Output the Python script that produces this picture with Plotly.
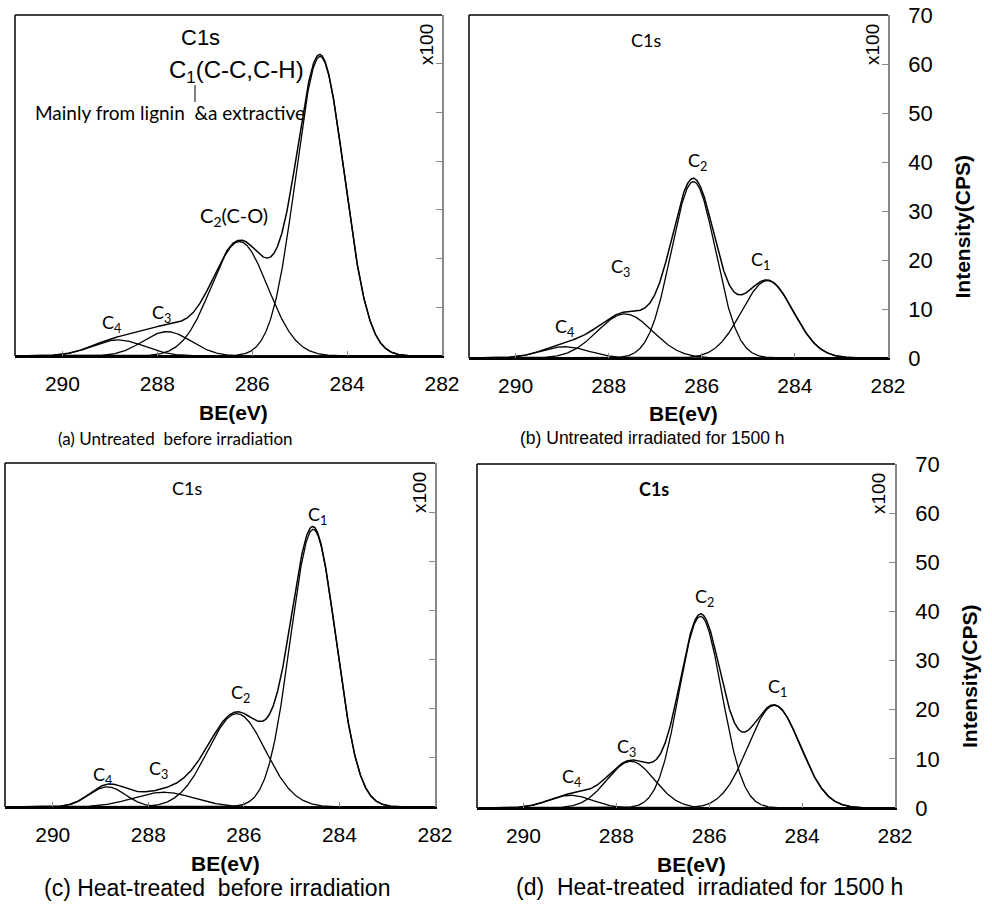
import numpy as np
import plotly.graph_objects as go

W, H = 992, 909

# ---- data: fitted C1s component peaks (binding energy eV, height x100 CPS, FWHM eV)
components = ["C1", "C2", "C3", "C4"]
a_centers = [284.57, 286.27, 287.80, 288.83]
a_heights = [61.5, 23.5, 5.0, 3.3]
a_fwhm = [1.20, 1.40, 1.20, 1.30]

b_centers = [284.59, 286.18, 287.65, 288.94]
b_heights = [15.8, 36.0, 9.0, 2.3]
b_fwhm = [1.30, 1.12, 1.40, 1.20]

c_centers = [284.55, 286.15, 287.68, 288.86]
c_heights = [56.5, 19.0, 3.0, 4.1]
c_fwhm = [1.12, 1.42, 1.50, 0.90]

d_centers = [284.60, 286.19, 287.69, 288.99]
d_heights = [20.9, 39.0, 9.5, 2.6]
d_fwhm = [1.32, 1.08, 1.20, 1.10]

x_ticks = [290, 288, 286, 284, 282]
y_ticks = [0, 10, 20, 30, 40, 50, 60, 70]

captions = ["(a) Untreated  before irradiation",
            "(b) Untreated irradiated for 1500 h",
            "(c) Heat-treated  before irradiation",
            "(d)  Heat-treated  irradiated for 1500 h"]

ARIAL = "Liberation Sans, Arial"
CALI = "Lato, Calibri"

be = np.linspace(291, 282, 901)


def gauss(x, c, h, w):
    return h * np.exp(-4 * np.log(2) * (x - c) ** 2 / w ** 2)


# panel frames in pixels: left, right, top, bottom
frames = {
    "a": (15, 442, 15, 356),
    "b": (469, 888, 15, 358),
    "c": (5, 435, 463, 807),
    "d": (477, 895, 464, 808),
}
params = {
    "a": (a_centers, a_heights, a_fwhm),
    "b": (b_centers, b_heights, b_fwhm),
    "c": (c_centers, c_heights, c_fwhm),
    "d": (d_centers, d_heights, d_fwhm),
}

fig = go.Figure()
layout = dict(width=W, height=H, autosize=False, margin=dict(l=0, r=0, t=0, b=0, pad=0),
              paper_bgcolor="white", plot_bgcolor="white", showlegend=False)
shapes = []
annotations = []


def px(x, y):
    return x / W, 1 - y / H


def ann(x, y, text, size, family, **kw):
    xx, yy = px(x, y)
    annotations.append(dict(x=xx, y=yy, xref="paper", yref="paper", text=text,
                            xanchor="center", yanchor="middle",
                            showarrow=False, font=dict(family=family, size=size, color="black"), **kw))


for i, key in enumerate(["a", "b", "c", "d"]):
    n = i + 1
    xa = "x" if n == 1 else f"x{n}"
    ya = "y" if n == 1 else f"y{n}"
    l, r, t, b = frames[key]
    cs, hs, ws = params[key]
    total = np.zeros_like(be)
    for c, h, w in zip(cs, hs, ws):
        comp = gauss(be, c, h, w)
        total += comp
        fig.add_trace(go.Scatter(x=be, y=comp, mode="lines", xaxis=xa, yaxis=ya,
                                 line=dict(color="black", width=1.3), hoverinfo="skip"))
    fig.add_trace(go.Scatter(x=be, y=total, mode="lines", xaxis=xa, yaxis=ya,
                             line=dict(color="black", width=1.5), hoverinfo="skip"))

    showlab = key in ("b", "d")
    layout["xaxis" if n == 1 else f"xaxis{n}"] = dict(
        domain=[l / W, r / W], range=[291, 282], anchor=ya, automargin=False,
        tickvals=x_ticks, ticktext=[str(v) for v in x_ticks],
        ticks="inside", ticklen=5, tickcolor="#888", tickwidth=1,
        showline=True, linecolor="black", linewidth=2, showgrid=False, zeroline=False,
        tickfont=dict(family=ARIAL, size=21, color="black"), ticklabelstandoff=8)
    layout["yaxis" if n == 1 else f"yaxis{n}"] = dict(
        domain=[1 - b / H, 1 - t / H], range=[0, 70], anchor=xa, side="right", automargin=False,
        tickvals=y_ticks, showticklabels=showlab,
        ticks="inside", ticklen=6, tickcolor="#888", tickwidth=1,
        showline=True, linecolor="#888", linewidth=1.5, showgrid=False, zeroline=False,
        tickfont=dict(family=ARIAL, size=22, color="black"), ticklabelstandoff=14)

    # black left and top frame lines
    shapes.append(dict(type="line", xref="paper", yref="paper",
                       x0=l / W, x1=l / W, y0=1 - t / H, y1=1 - b / H,
                       line=dict(color="black", width=1.5)))
    shapes.append(dict(type="line", xref="paper", yref="paper",
                       x0=l / W, x1=r / W, y0=1 - t / H, y1=1 - t / H,
                       line=dict(color="black", width=1.5)))

    ann(r - 16, t + 30, "x100", 19, ARIAL, textangle=-90)
    ann((l + r) / 2 + 5, b + 56, "<b>BE(eV)</b>", 21, ARIAL)
    if showlab:
        ann(r + 74, (t + b) / 2 + 40, "<b>Intensity(CPS)</b>", 21, ARIAL, textangle=-90)

# captions
ann(175, 438, captions[0], 17, CALI)
ann(652, 438, captions[1], 17.5, ARIAL)
ann(217, 888, captions[2], 23, ARIAL)
ann(709, 887, captions[3], 23, ARIAL)

# panel a labels
ann(200, 38, "C1s", 22, ARIAL)
ann(236, 72, "C<sub>1</sub>(C-C,C-H)", 24, ARIAL)
ann(170, 113, "Mainly from lignin  &a extractive", 19, CALI)
ann(234, 217, "C<sub>2</sub>(C-O)", 20, CALI)
ann(161, 313, "C<sub>3</sub>", 18, CALI)
ann(111, 323, "C<sub>4</sub>", 18, CALI)
shapes.append(dict(type="line", xref="paper", yref="paper",
                   x0=195 / W, x1=195 / W, y0=1 - 85 / H, y1=1 - 102 / H,
                   line=dict(color="black", width=1)))

# panel b labels
ann(646, 40, "C1s", 18, CALI)
ann(697, 162, "C<sub>2</sub>", 18, CALI)
ann(620, 267, "C<sub>3</sub>", 18, CALI)
ann(760, 260, "C<sub>1</sub>", 18, CALI)
ann(564, 327, "C<sub>4</sub>", 18, CALI)

# panel c labels
ann(187, 488, "C1s", 18, CALI)
ann(317, 515, "C<sub>1</sub>", 18, CALI)
ann(240, 693, "C<sub>2</sub>", 18, CALI)
ann(158, 769, "C<sub>3</sub>", 18, CALI)
ann(102, 775, "C<sub>4</sub>", 18, CALI)

# panel d labels
ann(654, 489, "<b>C1s</b>", 18, CALI)
ann(704, 597, "C<sub>2</sub>", 18, CALI)
ann(777, 687, "C<sub>1</sub>", 18, CALI)
ann(626, 747, "C<sub>3</sub>", 18, CALI)
ann(571, 777, "C<sub>4</sub>", 18, CALI)

layout["shapes"] = shapes
layout["annotations"] = annotations
fig.update_layout(**layout)
fig.write_html("out.html", config={"displayModeBar": False},
               post_script="document.body.style.margin='0px';document.body.style.overflow='hidden';")
